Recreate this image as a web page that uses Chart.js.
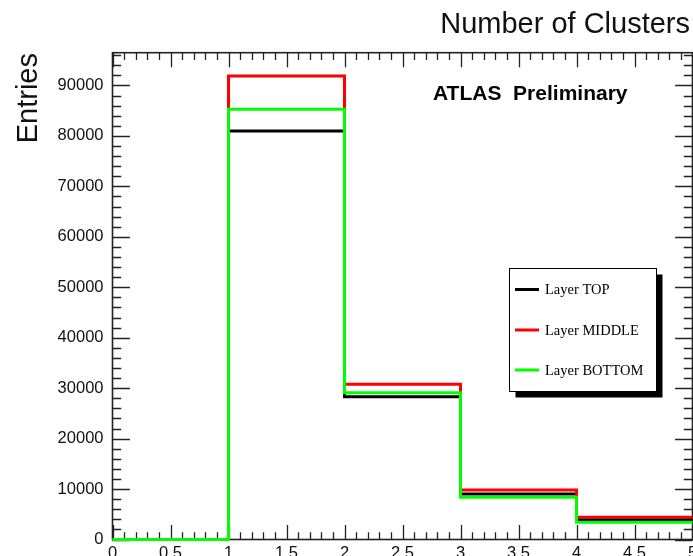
<!DOCTYPE html>
<html>
<head>
<meta charset="utf-8">
<script src="https://cdn.jsdelivr.net/npm/chart.js@4/dist/chart.umd.min.js"></script>
<style>
  html, body { margin: 0; padding: 0; background: #fff; overflow: hidden; width: 693px; height: 556px; }
  canvas { display: block; }
</style>
</head>
<body>
<canvas id="c" width="740" height="600"></canvas>
<script>
// Histogram bins (lower edges) and the upper edge of the last bin
const binEdges = [0, 1, 2, 3, 4];
const upperEdge = 5;

// Entries per bin for each layer
const layerTop    = [0, 81000, 28300, 9000, 3900];
const layerMiddle = [0, 91900, 30800, 9800, 4400];
const layerBottom = [0, 85300, 29100, 8400, 3400];

// Axis tick values and labels
const xTickValues = [0, 0.5, 1, 1.5, 2, 2.5, 3, 3.5, 4, 4.5, 5];
const xTickLabels = ['0', '0.5', '1', '1.5', '2', '2.5', '3', '3.5', '4', '4.5', '5'];
const yTickValues = [0, 10000, 20000, 30000, 40000, 50000, 60000, 70000, 80000, 90000];
const yTickLabels = ['0', '10000', '20000', '30000', '40000', '50000', '60000', '70000', '80000', '90000'];
const yMax = 96500;

// Step outline: one point per bin edge, last bin carried to the upper edge
function outline(values) {
  const pts = binEdges.map((x, i) => ({ x: x, y: values[i] }));
  pts.push({ x: upperEdge, y: values[values.length - 1] });
  return pts;
}

function series(label, values, color, order) {
  return {
    label: label,
    data: outline(values),
    borderColor: color,
    backgroundColor: color,
    borderWidth: 3,
    pointRadius: 0,
    stepped: 'before',
    fill: false,
    tension: 0,
    order: order,
    clip: 6
  };
}

const TICK = '#222';

// Frame with inward ticks on all four sides
const framePlugin = {
  id: 'frame',
  beforeDatasetsDraw(chart) {
    const { ctx, chartArea: a, scales: { x, y } } = chart;
    ctx.save();
    ctx.strokeStyle = TICK;
    ctx.lineWidth = 1.6;
    ctx.strokeRect(a.left, a.top, a.right - a.left, a.bottom - a.top);
    ctx.lineWidth = 1.3;
    ctx.beginPath();
    const xl = 0.03 * (a.bottom - a.top);
    const yl = 0.03 * (a.right - a.left);
    for (let i = 0; i <= 50; i++) {
      const px = Math.round(x.getPixelForValue(i / 10)) + 0.5;
      const L = i % 5 === 0 ? xl : xl / 2;
      ctx.moveTo(px, a.bottom); ctx.lineTo(px, a.bottom - L);
      ctx.moveTo(px, a.top);    ctx.lineTo(px, a.top + L);
    }
    for (let i = 0; i * 2000 <= y.max; i++) {
      const py = Math.round(y.getPixelForValue(i * 2000)) + 0.5;
      const L = i % 5 === 0 ? yl : yl / 2;
      ctx.moveTo(a.left, py);  ctx.lineTo(a.left + L, py);
      ctx.moveTo(a.right, py); ctx.lineTo(a.right - L, py);
    }
    ctx.stroke();
    ctx.restore();
  }
};

// Axis titles, experiment label and boxed legend
const textPlugin = {
  id: 'texts',
  afterDraw(chart) {
    const { ctx } = chart;
    ctx.save();
    ctx.fillStyle = '#111';
    ctx.font = '29px "Liberation Sans", Arial, sans-serif';
    ctx.textAlign = 'right';
    ctx.textBaseline = 'alphabetic';
    ctx.fillText('Number of Clusters', 690, 33);

    ctx.save();
    ctx.translate(37, 53);
    ctx.rotate(-Math.PI / 2);
    ctx.textAlign = 'right';
    ctx.fillText('Entries', 0, 0);
    ctx.restore();

    ctx.fillStyle = '#000';
    ctx.font = 'bold 21px "Liberation Sans", Arial, sans-serif';
    ctx.textAlign = 'left';
    ctx.fillText('ATLAS  Preliminary', 433, 100);

    // legend box with drop shadow
    const bx = 509.5, by = 268.5, bw = 147, bh = 123;
    ctx.fillStyle = '#000';
    ctx.fillRect(bx + 6, by + 6, bw, bh);
    ctx.fillStyle = '#fff';
    ctx.fillRect(bx, by, bw, bh);
    ctx.strokeStyle = '#000';
    ctx.lineWidth = 1;
    ctx.strokeRect(bx, by, bw, bh);

    ctx.font = '14.5px "Liberation Serif", "Times New Roman", serif';
    ctx.textBaseline = 'middle';
    const rows = [289.5, 330, 370];
    chart.data.datasets.forEach((ds, i) => {
      const ry = rows[i];
      ctx.strokeStyle = ds.borderColor;
      ctx.lineWidth = 3;
      ctx.beginPath();
      ctx.moveTo(515, ry); ctx.lineTo(539, ry);
      ctx.stroke();
      ctx.fillStyle = '#000';
      ctx.fillText(ds.label, 545, ry + 1);
    });
    ctx.restore();
  }
};

new Chart(document.getElementById('c'), {
  type: 'line',
  data: {
    datasets: [
      series('Layer TOP', layerTop, '#000000', 2),
      series('Layer MIDDLE', layerMiddle, '#ff0000', 1),
      series('Layer BOTTOM', layerBottom, '#00ff00', 0)
    ]
  },
  options: {
    responsive: false,
    devicePixelRatio: 1,
    animation: false,
    events: [],
    layout: { padding: { left: 0, top: 52.7, right: 47.5, bottom: 0 } },
    plugins: { legend: { display: false }, tooltip: { enabled: false }, title: { display: false } },
    scales: {
      x: {
        type: 'linear',
        min: 0,
        max: upperEdge,
        grid: { display: false, drawTicks: false },
        border: { display: false },
        afterBuildTicks(scale) { scale.ticks = xTickValues.map(v => ({ value: v })); },
        afterFit(scale) { scale.height = 60.5; },
        ticks: {
          autoSkip: false,
          maxRotation: 0,
          padding: 4,
          color: '#111',
          font: { family: '"Liberation Sans", Arial, sans-serif', size: 16.5 },
          callback: (v) => xTickLabels[xTickValues.indexOf(v)]
        }
      },
      y: {
        type: 'linear',
        min: 0,
        max: yMax,
        grid: { display: false, drawTicks: false },
        border: { display: false },
        afterBuildTicks(scale) { scale.ticks = yTickValues.map(v => ({ value: v })); },
        afterFit(scale) { scale.width = 112.5; },
        ticks: {
          padding: 9,
          color: '#111',
          font: { family: '"Liberation Sans", Arial, sans-serif', size: 16.5 },
          callback: (v) => yTickLabels[yTickValues.indexOf(v)]
        }
      }
    }
  },
  plugins: [framePlugin, textPlugin]
});
</script>
</body>
</html>
